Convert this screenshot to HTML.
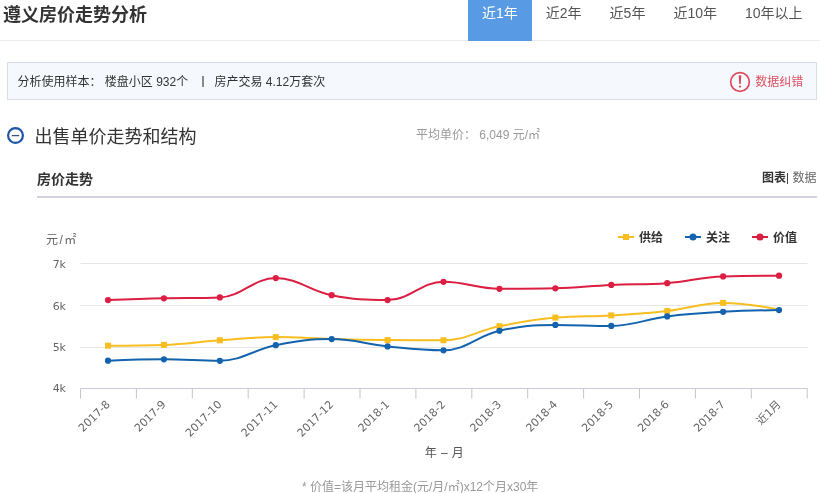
<!DOCTYPE html>
<html><head><meta charset="utf-8"><title>遵义房价走势分析</title>
<style>
*{margin:0;padding:0;box-sizing:border-box}
html,body{width:820px;height:493px;overflow:hidden;background:#fff}
body{position:relative;font-family:"Liberation Sans","Noto Sans CJK SC",sans-serif;color:#333}
.a{position:absolute;white-space:nowrap}
.title{left:3px;top:1.5px;font-size:18px;font-weight:bold;line-height:27px;color:#333}
.hline{left:0;top:40px;width:820px;height:1px;background:#ececec}
.tabs{left:468px;top:0;height:41px;display:flex;z-index:2}
.tabs span{display:block;padding:0 14px;height:41px;line-height:27px;font-size:14px;color:#555}
.tabs span.on{background:#589be4;color:#fff}
.info{left:7px;top:62px;width:810px;height:38px;background:#f5f9fd;border:1px solid #d6dfe9}
.info .t{position:absolute;left:9.5px;top:9.5px;font-size:12px;line-height:18px;color:#333}
.info .err{position:absolute;right:12.8px;top:9.7px;font-size:12px;line-height:18px;color:#dd5260}
.sec{left:34.4px;top:124px;font-size:18px;line-height:27px;color:#333}
.avg{left:416px;top:126px;font-size:12px;line-height:18px;color:#999}
.sub{left:37px;top:168.7px;font-size:14px;font-weight:bold;line-height:20px;color:#333}
.tog{right:3.5px;top:167.8px;font-size:12px;line-height:20px;color:#666}
.tog b{color:#333}
.uline{left:37px;top:196px;width:780px;height:2px;background:#d3d3e0}
.note{left:302px;top:478px;font-size:12px;line-height:18px;color:#999}
.chart{position:absolute;left:0;top:0}
</style></head><body>
<div class="a title">遵义房价走势分析</div>
<div class="a tabs"><span class="on">近1年</span><span>近2年</span><span>近5年</span><span>近10年</span><span>10年以上</span></div>
<div class="a hline"></div>
<div class="a info"><div class="t">分析使用样本： 楼盘小区 932个</div><div style="position:absolute;left:194.4px;top:13.3px;width:1.2px;height:10.3px;background:#8a8a8a"></div><div class="t" style="left:206.5px">房产交易 4.12万套次</div>
<div class="err">数据纠错</div>
<svg style="position:absolute;left:721.3px;top:8px" width="22" height="22" viewBox="0 0 22 22"><circle cx="11" cy="11" r="9.3" fill="none" stroke="#dc4b5b" stroke-width="1.7"/><path d="M9.7 4.5 Q11 3.9 12.3 4.5 L11.75 12.9 L10.25 12.9 Z" fill="#dc4b5b"/><circle cx="11" cy="15.6" r="1.15" fill="#dc4b5b"/></svg>
</div>
<svg class="a" style="left:7px;top:127px" width="17" height="17" viewBox="0 0 17 17"><circle cx="8.5" cy="8.5" r="7.4" fill="none" stroke="#1e55a8" stroke-width="2.2"/><path d="M4.8 8.6 H12.2" stroke="#3b4f7e" stroke-width="1.3"/></svg>
<div class="a sec">出售单价走势和结构</div>
<div class="a avg">平均单价： 6,049 元/㎡</div>
<div class="a sub">房价走势</div>
<div class="a tog"><b>图表</b><span style="display:inline-block;width:6.4px"></span>数据</div><div class="a" style="left:786.9px;top:173.4px;width:1.1px;height:10.4px;background:#444"></div>
<div class="a uline"></div>
<svg class="chart" width="820" height="493" viewBox="0 0 820 493">
<g stroke="#e6e6e6" stroke-width="1" fill="none"><path d="M 80.5 263.5 H 807.5"/><path d="M 80.5 305.5 H 807.5"/><path d="M 80.5 347.5 H 807.5"/></g>
<g stroke-width="1" fill="none"><path d="M 80.5 388.5 H 807.5" stroke="#caccd8"/><g stroke="#c2c5d0"><path d="M 80.5 388.5 V 398.5"/><path d="M 136.4 388.5 V 398.5"/><path d="M 192.3 388.5 V 398.5"/><path d="M 248.2 388.5 V 398.5"/><path d="M 304.1 388.5 V 398.5"/><path d="M 360.0 388.5 V 398.5"/><path d="M 415.9 388.5 V 398.5"/><path d="M 471.8 388.5 V 398.5"/><path d="M 527.7 388.5 V 398.5"/><path d="M 583.6 388.5 V 398.5"/><path d="M 639.5 388.5 V 398.5"/><path d="M 695.4 388.5 V 398.5"/><path d="M 751.3 388.5 V 398.5"/><path d="M 807.2 388.5 V 398.5"/></g></g>
<g fill="#666" font-size="11" font-family="DejaVu Sans, Noto Sans CJK SC, sans-serif" text-anchor="end">
<text x="66" y="267.6">7k</text><text x="66" y="309.5">6k</text><text x="66" y="351.3">5k</text><text x="66" y="391.7">4k</text>
</g>
<text x="46" y="244" fill="#666" font-size="12" letter-spacing="1.5" font-family="Liberation Sans, Noto Sans CJK SC, sans-serif">元/㎡</text>
<g fill="#666" font-size="11" font-family="DejaVu Sans, Noto Sans CJK SC, sans-serif"><text x="110.60" y="405.00" text-anchor="end" transform="rotate(-45 110.60 405.00)">2017-8</text><text x="166.52" y="405.00" text-anchor="end" transform="rotate(-45 166.52 405.00)">2017-9</text><text x="222.44" y="405.00" text-anchor="end" transform="rotate(-45 222.44 405.00)">2017-10</text><text x="278.36" y="405.00" text-anchor="end" transform="rotate(-45 278.36 405.00)">2017-11</text><text x="334.28" y="405.00" text-anchor="end" transform="rotate(-45 334.28 405.00)">2017-12</text><text x="390.20" y="405.00" text-anchor="end" transform="rotate(-45 390.20 405.00)">2018-1</text><text x="446.12" y="405.00" text-anchor="end" transform="rotate(-45 446.12 405.00)">2018-2</text><text x="502.04" y="405.00" text-anchor="end" transform="rotate(-45 502.04 405.00)">2018-3</text><text x="557.96" y="405.00" text-anchor="end" transform="rotate(-45 557.96 405.00)">2018-4</text><text x="613.88" y="405.00" text-anchor="end" transform="rotate(-45 613.88 405.00)">2018-5</text><text x="669.80" y="405.00" text-anchor="end" transform="rotate(-45 669.80 405.00)">2018-6</text><text x="725.72" y="405.00" text-anchor="end" transform="rotate(-45 725.72 405.00)">2018-7</text><text x="781.64" y="405.00" text-anchor="end" transform="rotate(-45 781.64 405.00)">近1月</text></g>
<text x="424.8" y="457" fill="#555" font-size="12" letter-spacing="0.4" font-family="Liberation Sans, Noto Sans CJK SC, sans-serif">年 – 月</text>
<g fill="none" stroke-width="2" stroke-linejoin="round" stroke-linecap="round">
<path d="M 108.00 345.70 C 108.00 345.70 141.55 345.70 163.92 344.90 C 186.29 344.10 197.47 341.86 219.84 340.30 C 242.21 338.74 253.39 337.10 275.76 337.10 C 298.13 337.10 309.31 338.50 331.68 339.10 C 354.05 339.70 365.23 339.90 387.60 340.10 C 409.97 340.30 421.15 340.30 443.52 340.30 C 465.89 340.30 477.07 330.74 499.44 326.20 C 521.81 321.66 532.99 319.76 555.36 317.60 C 577.73 315.44 588.91 316.72 611.28 315.40 C 633.65 314.08 644.83 313.50 667.20 311.00 C 689.57 308.50 700.75 302.90 723.12 302.90 C 745.49 302.90 779.04 309.60 779.04 309.60" stroke="#f8be20"/>
<path d="M 108.00 360.70 C 108.00 360.70 141.55 359.30 163.92 359.30 C 186.29 359.30 197.47 360.80 219.84 360.80 C 242.21 360.80 253.39 349.54 275.76 345.20 C 298.13 340.86 309.31 339.10 331.68 339.10 C 354.05 339.10 365.23 344.16 387.60 346.40 C 409.97 348.64 421.15 350.30 443.52 350.30 C 465.89 350.30 477.07 335.88 499.44 330.80 C 521.81 325.72 532.99 324.90 555.36 324.90 C 577.73 324.90 588.91 325.90 611.28 325.90 C 633.65 325.90 644.83 319.22 667.20 316.40 C 689.57 313.58 700.75 313.06 723.12 311.80 C 745.49 310.54 779.04 310.10 779.04 310.10" stroke="#1463ae"/>
<path d="M 108.00 300.10 C 108.00 300.10 141.55 298.84 163.92 298.30 C 186.29 297.76 197.47 298.30 219.84 297.40 C 242.21 296.50 253.39 278.10 275.76 278.10 C 298.13 278.10 309.31 290.80 331.68 295.20 C 354.05 299.60 365.23 300.10 387.60 300.10 C 409.97 300.10 421.15 281.80 443.52 281.80 C 465.89 281.80 477.07 288.80 499.44 288.80 C 521.81 288.80 532.99 288.80 555.36 288.30 C 577.73 287.80 588.91 285.92 611.28 284.90 C 633.65 283.88 644.83 284.90 667.20 283.20 C 689.57 281.50 700.75 277.10 723.12 276.40 C 745.49 275.70 779.04 275.70 779.04 275.70" stroke="#dc1e42"/>
</g>
<rect x="105.00" y="342.70" width="6.0" height="6.0" fill="#f8be20"/><rect x="160.92" y="341.90" width="6.0" height="6.0" fill="#f8be20"/><rect x="216.84" y="337.30" width="6.0" height="6.0" fill="#f8be20"/><rect x="272.76" y="334.10" width="6.0" height="6.0" fill="#f8be20"/><rect x="384.60" y="337.10" width="6.0" height="6.0" fill="#f8be20"/><rect x="440.52" y="337.30" width="6.0" height="6.0" fill="#f8be20"/><rect x="496.44" y="323.20" width="6.0" height="6.0" fill="#f8be20"/><rect x="552.36" y="314.60" width="6.0" height="6.0" fill="#f8be20"/><rect x="608.28" y="312.40" width="6.0" height="6.0" fill="#f8be20"/><rect x="664.20" y="308.00" width="6.0" height="6.0" fill="#f8be20"/><rect x="720.12" y="299.90" width="6.0" height="6.0" fill="#f8be20"/><circle cx="108.00" cy="360.70" r="3.1" fill="#1463ae"/><circle cx="163.92" cy="359.30" r="3.1" fill="#1463ae"/><circle cx="219.84" cy="360.80" r="3.1" fill="#1463ae"/><circle cx="275.76" cy="345.20" r="3.1" fill="#1463ae"/><circle cx="331.68" cy="339.10" r="3.1" fill="#1463ae"/><circle cx="387.60" cy="346.40" r="3.1" fill="#1463ae"/><circle cx="443.52" cy="350.30" r="3.1" fill="#1463ae"/><circle cx="499.44" cy="330.80" r="3.1" fill="#1463ae"/><circle cx="555.36" cy="324.90" r="3.1" fill="#1463ae"/><circle cx="611.28" cy="325.90" r="3.1" fill="#1463ae"/><circle cx="667.20" cy="316.40" r="3.1" fill="#1463ae"/><circle cx="723.12" cy="311.80" r="3.1" fill="#1463ae"/><circle cx="779.04" cy="310.10" r="3.1" fill="#1463ae"/><circle cx="108.00" cy="300.10" r="3.1" fill="#dc1e42"/><circle cx="163.92" cy="298.30" r="3.1" fill="#dc1e42"/><circle cx="219.84" cy="297.40" r="3.1" fill="#dc1e42"/><circle cx="275.76" cy="278.10" r="3.1" fill="#dc1e42"/><circle cx="331.68" cy="295.20" r="3.1" fill="#dc1e42"/><circle cx="387.60" cy="300.10" r="3.1" fill="#dc1e42"/><circle cx="443.52" cy="281.80" r="3.1" fill="#dc1e42"/><circle cx="499.44" cy="288.80" r="3.1" fill="#dc1e42"/><circle cx="555.36" cy="288.30" r="3.1" fill="#dc1e42"/><circle cx="611.28" cy="284.90" r="3.1" fill="#dc1e42"/><circle cx="667.20" cy="283.20" r="3.1" fill="#dc1e42"/><circle cx="723.12" cy="276.40" r="3.1" fill="#dc1e42"/><circle cx="779.04" cy="275.70" r="3.1" fill="#dc1e42"/>
<g stroke-width="2">
<path d="M 618 237 H 634" stroke="#f8be20"/><rect x="623" y="234" width="6" height="6" fill="#f8be20"/>
<path d="M 685 237 H 701" stroke="#1463ae"/><circle cx="693" cy="237" r="3.5" fill="#1463ae"/>
<path d="M 752 237 H 768" stroke="#dc1e42"/><circle cx="760" cy="237" r="3.5" fill="#dc1e42"/>
</g>
<g fill="#333" font-size="12" font-weight="bold" font-family="Liberation Sans, Noto Sans CJK SC, sans-serif">
<text x="639" y="242">供给</text><text x="706" y="242">关注</text><text x="773" y="242">价值</text>
</g>
</svg>
<div class="a note">* 价值=该月平均租金(元/月/㎡)x12个月x30年</div>
</body></html>
